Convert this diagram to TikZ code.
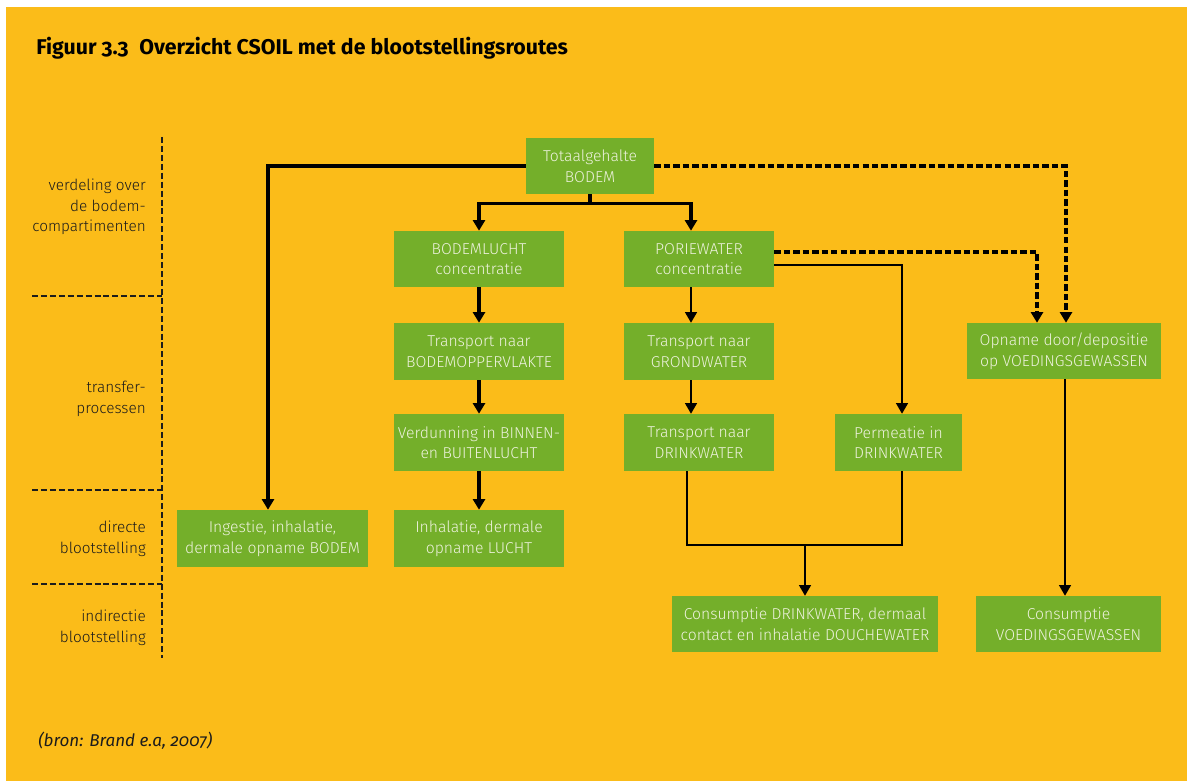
\documentclass[tikz,border=0pt]{standalone}
\usepackage{fontspec}
\setmainfont{Fira Sans}
\newfontfamily\oldnum[Numbers=OldStyle]{Fira Sans}
\newfontfamily\lightfont{Fira Sans Light}
\usetikzlibrary{arrows.meta,calc}
\definecolor{bgyellow}{RGB}{251,188,25}
\definecolor{boxgreen}{RGB}{116,175,42}
\definecolor{boxtext}{RGB}{238,242,222}
\definecolor{ink}{RGB}{28,28,28}
\begin{document}
\begin{tikzpicture}[x=0.75pt,y=-0.75pt,
  box/.style={fill=boxgreen, text=boxtext, inner sep=0pt, align=center,
    font=\lightfont\fontsize{11.8}{15.5}\selectfont},
  wh/.style 2 args={minimum width=#1*0.75pt, minimum height=#2*0.75pt},
  lanelabel/.style={anchor=east, align=right, text=ink, inner sep=0pt,
    font=\lightfont\fontsize{11.5}{15.4}\selectfont},
  laneline/.style={draw=ink, line width=0.8pt, dash pattern=on 4.5pt off 2.2pt},
  tip/.style={-{Triangle[width=9pt,length=8pt]}},
  thickflow/.style={line width=2.4pt, tip},
  thinline/.style={line width=1pt},
  thinflow/.style={thinline, tip},
  dashflow/.style={tip, line width=2.4pt, dash pattern=on 4.8pt off 2.3pt},
]
% page and panel
\useasboundingbox (0,0) rectangle (1187,781);
\fill[white] (0,0) rectangle (1187,781);
\fill[bgyellow] (6,7.5) rectangle (1187,781);

% title and source
\node[anchor=base west, text=black, inner sep=0pt,
  font=\oldnum\bfseries\fontsize{16}{19}\selectfont] (title) at (36,55)
  {Figuur 3.3\hspace{0.5em}Overzicht CSOIL met de blootstellingsroutes};
\node[anchor=base west, text=ink, inner sep=0pt,
  font=\oldnum\itshape\fontsize{12.8}{15}\selectfont] (bron) at (38,746)
  {(bron: Brand e.a, 2007)};

% lanes on the left
\draw[laneline] (162,137) -- (162,658);
\draw[laneline] (32,296) -- (162,296);
\draw[laneline] (32,490) -- (162,490);
\draw[laneline] (32,584) -- (162,584);
\node[lanelabel] (l1) at (146,207) {verdeling over\\de bodem-\\compartimenten};
\node[lanelabel] (l2) at (146,399) {transfer-\\processen};
\node[lanelabel] (l3) at (146,539) {directe\\blootstelling};
\node[lanelabel] (l4) at (146,628) {indirectie\\blootstelling};

% boxes
\node[box, wh={128}{56}] (tot)    at (590,166)   {Totaalgehalte\\BODEM};
\node[box, wh={170}{56}] (blucht) at (479,259)   {BODEMLUCHT\\concentratie};
\node[box, wh={150}{56}] (pw)     at (699,259)   {PORIEWATER\\concentratie};
\node[box, wh={170}{57}] (tbo)    at (479,351.5) {Transport naar\\BODEMOPPERVLAKTE};
\node[box, wh={150}{57}] (tgw)    at (699,351.5) {Transport naar\\GRONDWATER};
\node[box, wh={194}{56}] (opn)    at (1064,351)  {Opname door/depositie\\op VOEDINGSGEWASSEN};
\node[box, wh={170}{57}] (verd)   at (479,442.5) {Verdunning in BINNEN-\\en BUITENLUCHT};
\node[box, wh={150}{57}] (tdw)    at (699,442.5) {Transport naar\\DRINKWATER};
\node[box, wh={127}{57}] (perm)   at (898.5,442.5) {Permeatie in\\DRINKWATER};
\node[box, wh={191}{57}] (ing)    at (272.5,538.5) {Ingestie, inhalatie,\\dermale opname BODEM};
\node[box, wh={170}{57}] (inh)    at (479,538.5) {Inhalatie, dermale\\opname LUCHT};
\node[box, wh={266}{56}] (cdw)    at (805,624)   {Consumptie DRINKWATER, dermaal\\contact en inhalatie DOUCHEWATER};
\node[box, wh={185}{56}] (cvg)    at (1068.5,624) {Consumptie\\VOEDINGSGEWASSEN};

% guide coordinates for the vertical runs
\coordinate (xing)  at (268,0);
\coordinate (xpw)   at (691,0);
\coordinate (xdw)   at (687,0);
\coordinate (xperm) at (902,0);
\coordinate (xd1)   at (1037,0);
\coordinate (xd2)   at (1066,0);
\coordinate (xveg)  at (1065,0);
\coordinate (join)  at (805,545);

% solid thick connectors
\draw[thickflow] (tot.west) -| (ing.north -| xing);
\draw[thickflow] (tot.south) -- ++(0,9) -| (blucht.north);
\draw[thickflow] (tot.south) -- ++(0,9) -| (pw.north -| xpw);
\draw[thickflow] (blucht.south) -- (tbo.north);
\draw[thickflow] (tbo.south) -- (verd.north);
\draw[thickflow] (verd.south) -- (inh.north);

% dashed connectors to the crops
\draw[dashflow] (tot.east) -| (opn.north -| xd2);
\draw[dashflow] ($(pw.east)+(0,-7)$) -| (opn.north -| xd1);

% thin connectors
\draw[thinflow] ($(pw.east)+(0,6)$) -| (perm.north -| xperm);
\draw[thinflow] (pw.south -| xpw) -- (tgw.north -| xpw);
\draw[thinflow] (tgw.south -| xpw) -- (tdw.north -| xpw);
\draw[thinline] (tdw.south -| xdw) |- (join) -| (perm.south -| xperm);
\draw[thinflow] (join) -- (cdw.north);
\draw[thinflow] (opn.south -| xveg) -- (cvg.north -| xveg);
\end{tikzpicture}
\end{document}
